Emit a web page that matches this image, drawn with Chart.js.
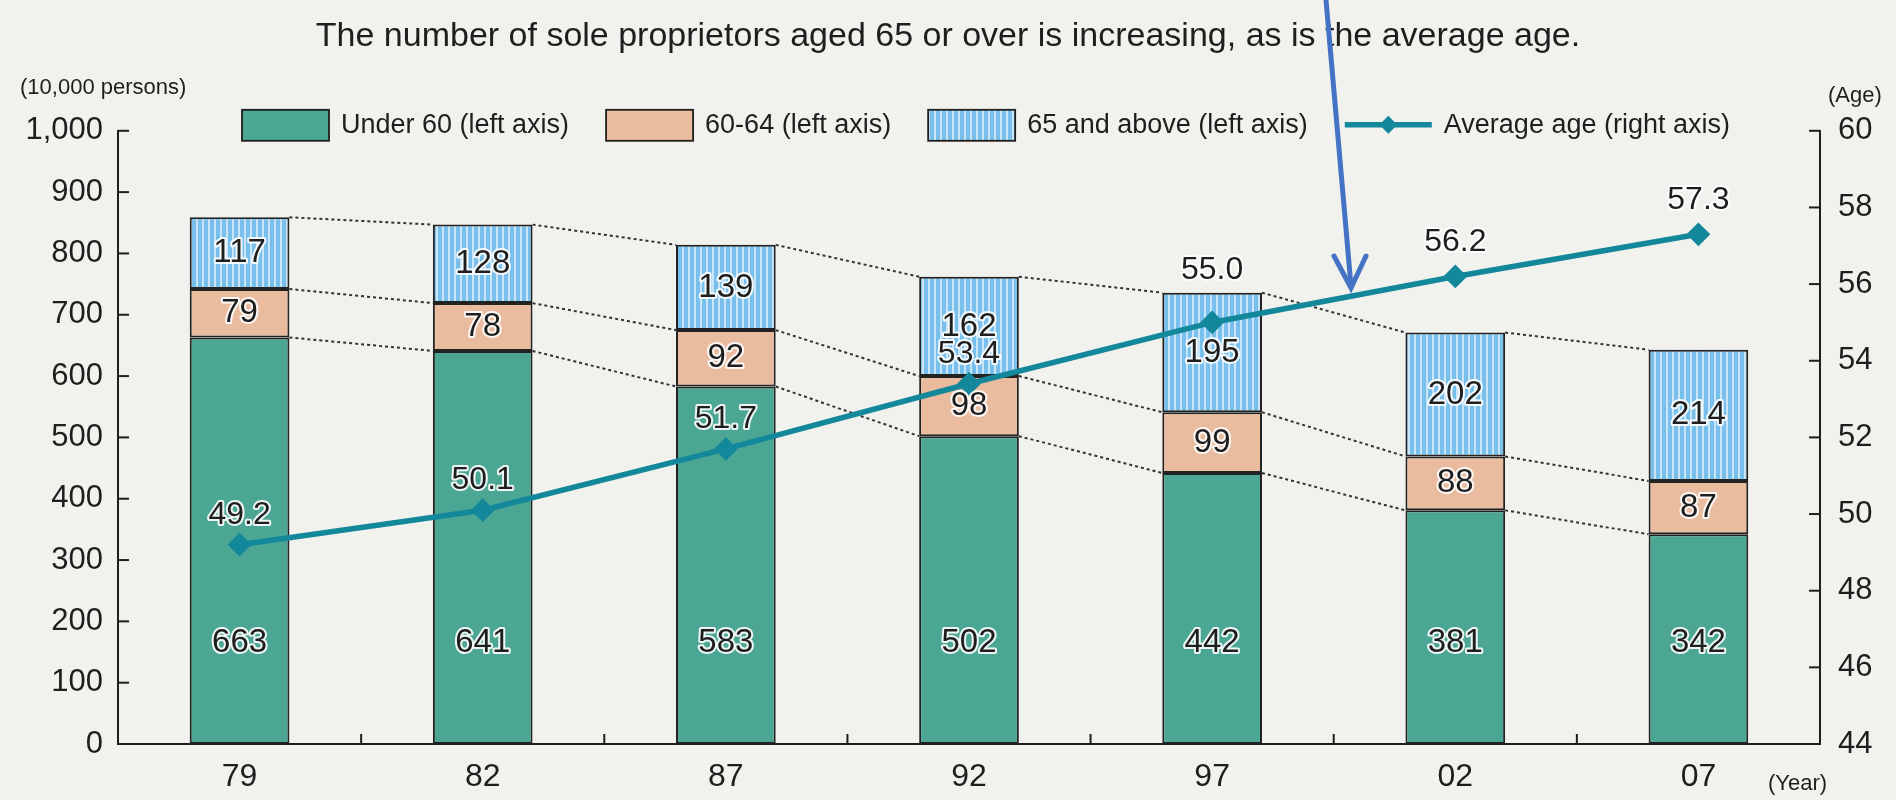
<!DOCTYPE html>
<html>
<head>
<meta charset="utf-8">
<title>Sole proprietors by age group</title>
<script src="https://cdn.jsdelivr.net/npm/chart.js@4.4.1/dist/chart.umd.min.js"></script>
<style>
  html, body { margin: 0; padding: 0; background: #f1f1ed; }
</style>
</head>
<body>
<canvas id="chart" width="1896" height="800"></canvas>
<script>
// Data (10,000 persons / years of age)
const years = ['79', '82', '87', '92', '97', '02', '07']
const under60 = [663, 641, 583, 502, 442, 381, 342]
const age60to64 = [79, 78, 92, 98, 99, 88, 87]
const age65plus = [117, 128, 139, 162, 195, 202, 214]
const averageAge = [49.2, 50.1, 51.7, 53.4, 55.0, 56.2, 57.3]

const seriesNames = ['Under 60 (left axis)', '60-64 (left axis)', '65 and above (left axis)', 'Average age (right axis)']

const FONT = "'Liberation Sans', Arial, Helvetica, sans-serif"
const INK = '#1e1e1e'
const GREEN = '#4ba693'
const PEACH = '#e9bb9f'
const LINE = '#14889b'

// how far above each point the average-age value is printed
const ageLabelLift = [30, 30, 30, 30, 52, 34, 34]

Chart.defaults.font.family = FONT
Chart.defaults.color = INK

const canvas = document.getElementById('chart')
const ctx = canvas.getContext('2d')

/**
 * Light blue fill with thin vertical white stripes.
 *
 * @returns {CanvasPattern} The pattern.
 */
function stripePattern () {
  const tile = document.createElement('canvas')
  tile.width = 6
  tile.height = 6
  const g = tile.getContext('2d')
  g.fillStyle = '#78bfeb'
  g.fillRect(0, 0, 6, 6)
  g.fillStyle = '#c9e5f7'
  g.fillRect(4, 0, 2, 6)
  return ctx.createPattern(tile, 'repeat')
}
const BLUE = stripePattern()

/**
 * Text with a white halo, like the printed labels.
 */
function haloText (c, text, x, y) {
  c.lineJoin = 'round'
  c.lineWidth = 4
  c.strokeStyle = 'rgba(255, 255, 255, 0.9)'
  c.strokeText(text, x, y)
  c.fillStyle = INK
  c.fillText(text, x, y)
}

const decorations = {
  id: 'decorations',
  beforeDraw (chart) {
    const c = chart.ctx
    c.save()
    c.fillStyle = '#f1f1ed'
    c.fillRect(0, 0, chart.width, chart.height)
    c.restore()
  },
  // dotted lines joining the segment tops of neighbouring bars
  beforeDatasetsDraw (chart) {
    const c = chart.ctx
    c.save()
    c.strokeStyle = '#333'
    c.lineWidth = 2
    c.setLineDash([3, 3])
    for (let d = 0; d < 3; d++) {
      const bars = chart.getDatasetMeta(d).data
      for (let i = 0; i < bars.length - 1; i++) {
        const a = bars[i]
        const b = bars[i + 1]
        c.beginPath()
        c.moveTo(a.x + a.width / 2, a.y)
        c.lineTo(b.x - b.width / 2, b.y)
        c.stroke()
      }
    }
    c.restore()
  },
  afterDatasetsDraw (chart) {
    const c = chart.ctx
    const yScale = chart.scales.y
    c.save()
    c.font = `33px ${FONT}`
    c.textAlign = 'center'
    c.textBaseline = 'middle'
    // bar values: the under-60 numbers all sit on one level
    const lowLevel = yScale.getPixelForValue(165)
    for (let d = 0; d < 3; d++) {
      const values = chart.data.datasets[d].data
      chart.getDatasetMeta(d).data.forEach((bar, i) => {
        const y = d === 0 ? lowLevel : (bar.y + bar.base) / 2
        haloText(c, String(values[i]), bar.x, y)
      })
    }
    // average age values
    c.font = `32px ${FONT}`
    chart.getDatasetMeta(3).data.forEach((pt, i) => {
      haloText(c, averageAge[i].toFixed(1), pt.x, pt.y - ageLabelLift[i])
    })
    c.restore()
  },
  afterDraw (chart) {
    const c = chart.ctx
    const area = chart.chartArea
    const { x, y, y1 } = chart.scales
    c.save()
    c.strokeStyle = INK
    c.lineWidth = 2
    // inward ticks
    y.ticks.forEach(t => {
      const py = y.getPixelForValue(t.value)
      c.beginPath(); c.moveTo(area.left, py); c.lineTo(area.left + 11, py); c.stroke()
    })
    y1.ticks.forEach(t => {
      const py = y1.getPixelForValue(t.value)
      c.beginPath(); c.moveTo(area.right - 11, py); c.lineTo(area.right, py); c.stroke()
    })
    for (let i = 0; i < years.length - 1; i++) {
      const px = (x.getPixelForValue(i) + x.getPixelForValue(i + 1)) / 2
      c.beginPath(); c.moveTo(px, area.bottom); c.lineTo(px, area.bottom - 10); c.stroke()
    }

    // unit labels
    c.fillStyle = INK
    c.font = `22px ${FONT}`
    c.textBaseline = 'middle'
    c.textAlign = 'left'
    c.fillText('(10,000 persons)', 20, 88)
    c.fillText('(Age)', 1828, 96)
    c.fillText('(Year)', 1768, 784)

    // legend, drawn inside the plot like the original
    const fills = [GREEN, PEACH, BLUE]
    const ly = area.top - 6
    let lx = 242
    c.font = `27px ${FONT}`
    seriesNames.forEach((name, i) => {
      if (i < 3) {
        c.fillStyle = fills[i]
        c.fillRect(lx, ly - 15, 87, 31)
        c.strokeStyle = INK
        c.lineWidth = 1.8
        c.strokeRect(lx, ly - 15, 87, 31)
      } else {
        c.strokeStyle = LINE
        c.lineWidth = 5.5
        c.beginPath(); c.moveTo(lx, ly); c.lineTo(lx + 87, ly); c.stroke()
        c.fillStyle = LINE
        c.beginPath()
        c.moveTo(lx + 43.5, ly - 9); c.lineTo(lx + 52.5, ly); c.lineTo(lx + 43.5, ly + 9); c.lineTo(lx + 34.5, ly)
        c.closePath(); c.fill()
      }
      c.fillStyle = INK
      c.fillText(name, lx + 99, ly + 1)
      lx += 99 + c.measureText(name).width + 37
    })

    // blue annotation arrow laid over the scan
    c.strokeStyle = '#4472c4'
    c.lineWidth = 5
    c.lineCap = 'round'
    c.beginPath(); c.moveTo(1326, 0); c.lineTo(1351, 286); c.stroke()
    c.beginPath(); c.moveTo(1334, 256); c.lineTo(1351, 288); c.lineTo(1366, 256); c.stroke()
    c.restore()
  }
}

const barStyle = {
  borderColor: '#222',
  borderWidth: 2,
  borderSkipped: false,
  barPercentage: 0.41,
  categoryPercentage: 1,
  stack: 'people',
  yAxisID: 'y',
  order: 1
}

const chart = new Chart(ctx, {
  type: 'bar',
  data: {
    labels: years,
    datasets: [
      { ...barStyle, label: seriesNames[0], data: under60, backgroundColor: GREEN },
      { ...barStyle, label: seriesNames[1], data: age60to64, backgroundColor: PEACH },
      { ...barStyle, label: seriesNames[2], data: age65plus, backgroundColor: BLUE },
      {
        type: 'line',
        label: seriesNames[3],
        data: averageAge,
        yAxisID: 'y1',
        order: 0,
        borderColor: LINE,
        backgroundColor: LINE,
        borderWidth: 5.5,
        pointStyle: 'rectRot',
        pointRadius: 8,
        tension: 0
      }
    ]
  },
  options: {
    responsive: false,
    animation: false,
    events: [],
    layout: { padding: { top: 2 } },
    scales: {
      x: {
        stacked: true,
        grid: { display: false, drawTicks: false },
        border: { color: INK, width: 2 },
        ticks: { font: { size: 32 }, padding: 14, color: INK },
        afterFit (scale) { scale.height = 56 }
      },
      y: {
        stacked: true,
        min: 0,
        max: 1000,
        grid: { display: false, drawTicks: false },
        border: { color: INK, width: 2 },
        ticks: { stepSize: 100, font: { size: 31 }, padding: 15, color: INK },
        afterFit (scale) { scale.width = 118 }
      },
      y1: {
        position: 'right',
        min: 44,
        max: 60,
        grid: { display: false, drawTicks: false },
        border: { color: INK, width: 2 },
        ticks: { stepSize: 2, font: { size: 31 }, padding: 18, color: INK },
        afterFit (scale) { scale.width = 76 }
      }
    },
    plugins: {
      legend: { display: false },
      tooltip: { enabled: false },
      title: {
        display: true,
        text: 'The number of sole proprietors aged 65 or over is increasing, as is the average age.',
        font: { size: 34, weight: 'normal' },
        color: INK,
        padding: { top: 14, bottom: 74 }
      }
    }
  },
  plugins: [decorations]
})
</script>
</body>
</html>
